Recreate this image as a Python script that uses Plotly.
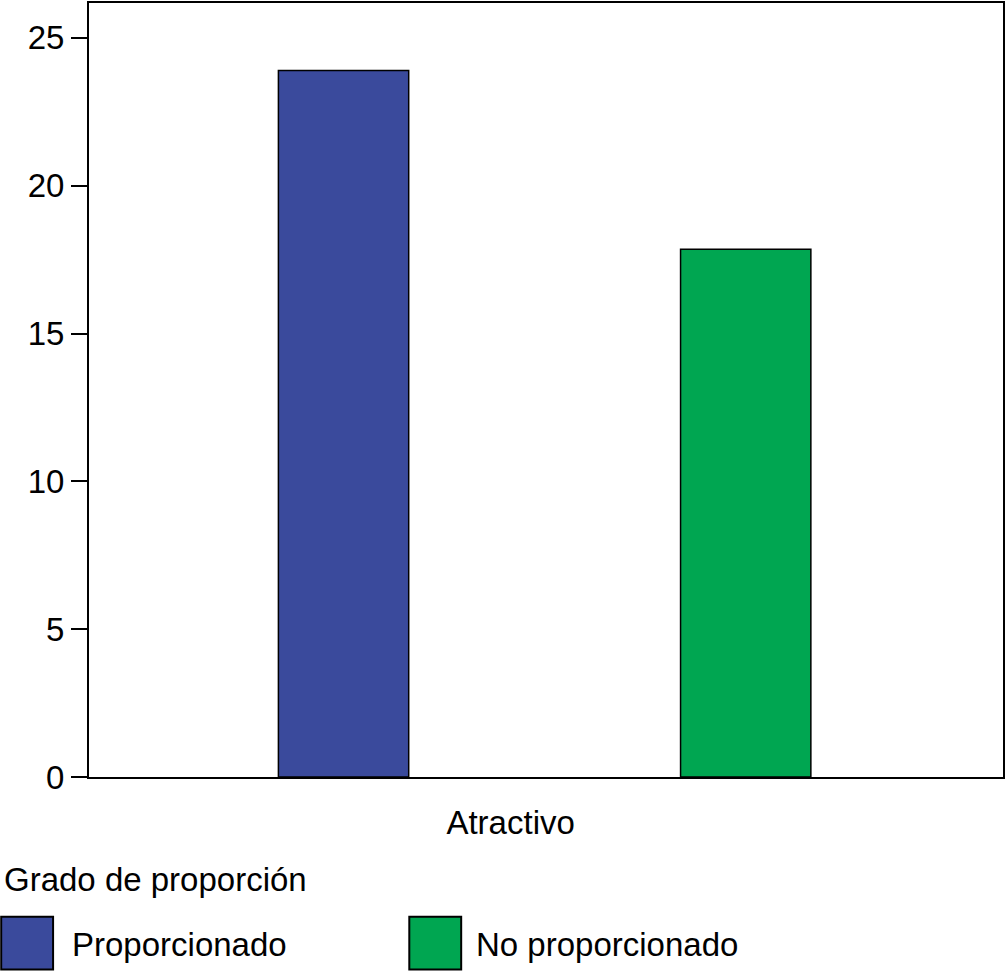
import plotly.graph_objects as go

# data
categories = ["Atractivo"]
series_names = ["Proporcionado", "No proporcionado"]
series_values = [[23.9], [17.85]]
series_colors = ["#3a4a9c", "#00a651"]
legend_title = "Grado de proporción"

W, H = 1006, 971
ML, MR, MT, MB = 89, 1, 1, 194
FONT = dict(family="Liberation Sans, Arial, Helvetica, sans-serif", size=33, color="black")

# pixel -> paper helpers (for the hand made legend)
def px_x(p):
    return (p - ML) / (W - ML - MR)

def px_y(p):
    return (H - MB - p) / (H - MT - MB)

fig = go.Figure()
for name, vals, col in zip(series_names, series_values, series_colors):
    fig.add_trace(go.Bar(x=categories, y=vals, name=name,
                         marker=dict(color=col, line=dict(color="black", width=1.5)),
                         showlegend=False))

fig.update_layout(
    width=W, height=H,
    margin=dict(l=ML, r=MR, t=MT, b=MB),
    paper_bgcolor="white", plot_bgcolor="white",
    font=FONT,
    barmode="group", bargap=0.12, bargroupgap=0.676,
)
fig.update_xaxes(range=[-0.4985, 0.5015], showline=True, linecolor="black", linewidth=2,
                 mirror=True, ticks="", showgrid=False,
                 ticklabelstandoff=15, ticklabelshift=-34)
fig.update_yaxes(range=[0, 26.18], tickvals=[0, 5, 10, 15, 20, 25], showline=True,
                 linecolor="black", linewidth=2, mirror=True, ticks="outside",
                 ticklen=16, tickwidth=2, tickcolor="black", showgrid=False,
                 zeroline=False)

# legend drawn by hand, big swatches like the original
fig.add_annotation(text=legend_title, xref="paper", yref="paper", x=px_x(2), y=px_y(880),
                   xanchor="left", yanchor="middle", showarrow=False, font=FONT)
swatch_left = [1, 410]
text_left = [70, 475]
for name, col, sx, tx in zip(series_names, series_colors, swatch_left, text_left):
    fig.add_shape(type="rect", xref="paper", yref="paper",
                  x0=px_x(sx), x1=px_x(sx + 52), y0=px_y(970), y1=px_y(917),
                  fillcolor=col, line=dict(color="black", width=2))
    fig.add_annotation(text=name, xref="paper", yref="paper", x=px_x(tx), y=px_y(945),
                       xanchor="left", yanchor="middle", showarrow=False, font=FONT)

# page has a default 8px body margin, drop it so the figure fills the window
fig.write_html("out.html", config={"displayModeBar": False},
               post_script="document.body.style.margin='0';")
